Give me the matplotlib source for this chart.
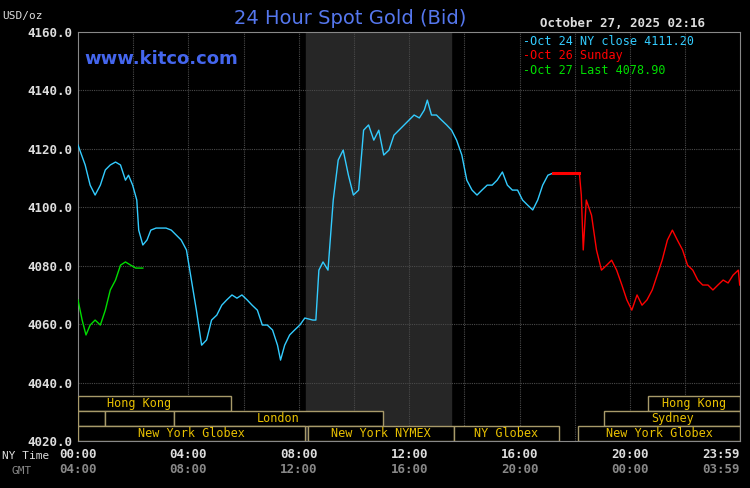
import matplotlib
matplotlib.use("Agg")
import matplotlib.pyplot as plt
from matplotlib.patches import Rectangle

cyan_h = [0,.26,.44,.62,.81,.99,1.17,1.36,1.54,1.72,1.83,1.98,2.13,2.2,2.35,2.5,2.64,2.83,3.01,3.19,3.38,3.56,3.74,3.93,4.11,4.29,4.48,4.66,4.84,5.03,5.21,5.39,5.58,5.76,5.94,6.13,6.31,6.5,6.68,6.86,7.05,7.23,7.34,7.49,7.67,7.85,8.04,8.22,8.51,8.62,8.73,8.88,9.06,9.25,9.43,9.61,9.8,9.98,10.17,10.35,10.53,10.72,10.9,11.08,11.27,11.45,11.63,11.82,12,12.18,12.37,12.55,12.66,12.81,12.99,13.17,13.36,13.54,13.72,13.91,14.09,14.28,14.46,14.64,14.83,15.01,15.19,15.38,15.56,15.74,15.93,16.11,16.29,16.48,16.66,16.84,17.03,17.21]
cyan_p = [4121.3,4114.5,4107.6,4104.2,4107.6,4112.8,4114.5,4115.5,4114.5,4109.3,4111,4107.6,4102.5,4092.2,4087.1,4088.8,4092.2,4092.9,4092.9,4092.9,4092.2,4090.5,4088.8,4085.4,4075.1,4064.8,4052.8,4054.6,4061.4,4063.1,4066.5,4068.3,4070,4068.9,4070,4068.3,4066.5,4064.8,4059.7,4059.7,4058,4052.8,4047.7,4052.8,4056.3,4058,4059.7,4062.1,4061.4,4061.4,4078.5,4081.3,4078.5,4102.5,4116.2,4119.6,4111,4104.2,4105.9,4126.4,4128.2,4123,4126.4,4117.9,4119.6,4124.7,4126.4,4128.2,4129.9,4131.6,4130.6,4133.3,4136.7,4131.6,4131.6,4129.9,4128.2,4126.4,4123,4117.9,4109.3,4105.9,4104.2,4105.9,4107.6,4107.6,4109.3,4112.1,4107.6,4105.9,4105.9,4102.5,4100.8,4099.1,4102.5,4107.6,4111,4111.7]
red_h = [17.21,18.17,18.24,18.31,18.42,18.61,18.79,18.97,19.16,19.34,19.52,19.71,19.89,20.07,20.26,20.44,20.62,20.81,20.99,21.17,21.36,21.54,21.72,21.91,22.09,22.28,22.46,22.64,22.83,23.01,23.19,23.38,23.56,23.74,23.93,23.98]
red_p = [4111.7,4111.7,4104.2,4085.4,4102.5,4097.3,4085.4,4078.5,4080.2,4081.9,4078.5,4073.4,4068.3,4064.8,4070,4066.5,4068.3,4071.7,4076.8,4081.9,4088.8,4092.2,4088.8,4085.4,4080.2,4078.5,4075.1,4073.4,4073.4,4071.7,4073.4,4075.1,4074.1,4076.8,4078.5,4073.4]
green_h = [0,.15,.29,.44,.62,.81,.99,1.17,1.36,1.54,1.72,1.91,2.09,2.35]
green_p = [4068.3,4061.4,4056.3,4059.7,4061.4,4059.7,4064.8,4071.7,4075.1,4080.2,4081.3,4080.2,4079.2,4079.2]

tick_h = [0,4,8,12,16,20,23.98]
ny_labels = ["00:00","04:00","08:00","12:00","16:00","20:00","23:59"]
gmt_labels = ["04:00","08:00","12:00","16:00","20:00","00:00","03:59"]
y_ticks = [4020,4040,4060,4080,4100,4120,4140,4160]

sessions = [(0,0,5.54,"Hong Kong"),(0,20.66,24,"Hong Kong"),
            (1,0,0.99,""),(1,0.99,3.49,""),(1,3.49,11.05,"London"),(1,19.08,24,"Sydney"),
            (2,0,8.22,"New York Globex"),(2,8.33,13.61,"New York NYMEX"),(2,13.61,17.43,"NY Globex"),(2,18.13,24,"New York Globex")]
row_bounds = [(4030.3,4035.4),(4025.1,4030.3),(4020,4025.1)]

mono = "DejaVu Sans Mono"
fig = plt.figure(figsize=(7.5,4.88), dpi=100, facecolor="black")
ax = fig.add_axes([0.104,0.0963,0.883,0.838], facecolor="black")
ax.set_xlim(0,24); ax.set_ylim(4020,4160)
ax.axvspan(8.25,13.5, color="#262626", zorder=0)
for h in range(2,24,2):
    ax.axvline(h, color="#4a4a4a", lw=0.8, ls=(0,(1,1)), zorder=1)
for v in range(4040,4160,20):
    ax.axhline(v, color="#4a4a4a", lw=0.8, ls=(0,(1,1)), zorder=1)
ax.plot(cyan_h, cyan_p, color="#33ccff", lw=1.0, zorder=3)
ax.plot(red_h[:2], red_p[:2], color="#ff0000", lw=2.2, zorder=3)
ax.plot(red_h[1:], red_p[1:], color="#ff0000", lw=1.0, zorder=3)
ax.plot(green_h, green_p, color="#00dd00", lw=1.0, zorder=3)

for row,s,e,lab in sessions:
    lo,hi = row_bounds[row]
    ax.add_patch(Rectangle((s,lo),e-s,hi-lo, facecolor="black", edgecolor="#a89a6a", lw=1, zorder=4))
    if lab:
        cx = (s+e)/2
        if lab=="Hong Kong" and s==0: cx = 2.2
        ax.text(cx,(lo+hi)/2,lab,color="#e8c000",fontsize=8.5,family=mono,ha="center",va="center",zorder=5)

for sp in ax.spines.values():
    sp.set_color("#888888")
ax.set_xticks([]); ax.set_yticks(y_ticks)
ax.set_yticklabels([f"{v:.1f}" for v in y_ticks], color="#dddddd", family=mono, fontsize=9, fontweight="bold")
ax.tick_params(axis="y", length=0, pad=4)
for i,(h,a,b) in enumerate(zip(tick_h, ny_labels, gmt_labels)):
    ha = "right" if i == len(tick_h)-1 else "center"
    ax.text(h,4015.3,a,color="#dddddd",family=mono,fontsize=9,fontweight="bold",ha=ha,va="center")
    ax.text(h,4010.2,b,color="#888888",family=mono,fontsize=9,fontweight="bold",ha=ha,va="center")
fig.text(0.003,0.066,"NY Time",color="#dddddd",family=mono,fontsize=8,va="center")
fig.text(0.016,0.035,"GMT",color="#888888",family=mono,fontsize=8,va="center")
fig.text(0.003,0.967,"USD/oz",color="#dddddd",family=mono,fontsize=8,va="center")
fig.text(0.467,0.962,"24 Hour Spot Gold (Bid)",color="#5577ee",fontsize=14,ha="center",va="center",family="DejaVu Sans")
fig.text(0.72,0.952,"October 27, 2025 02:16",color="#dddddd",family=mono,fontsize=9,fontweight="bold",va="center")
ax.text(0.01,0.935,"www.kitco.com",transform=ax.transAxes,color="#4466ee",fontsize=13,fontweight="bold",va="center")
leg = [("-Oct 24 NY close 4111.20","#33ccff"),("-Oct 26 Sunday","#ff0000"),("-Oct 27 Last 4078.90","#00dd00")]
for i,(t,c) in enumerate(leg):
    ax.text(0.672,0.978-i*0.036,t,transform=ax.transAxes,color=c,family=mono,fontsize=8.5,va="center")
fig.savefig("out.png", dpi=100, facecolor="black")
